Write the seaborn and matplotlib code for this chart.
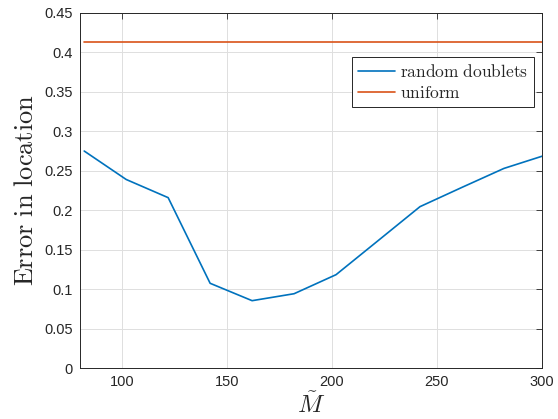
import numpy as np
import pandas as pd
import matplotlib
matplotlib.use("Agg")
import matplotlib.pyplot as plt
import seaborn as sns

# values
m_tilde = [82, 102, 122, 142, 162, 182, 202, 222, 242, 262, 282, 302]
random_doublets = [0.275, 0.239, 0.216, 0.1076, 0.0856, 0.0944, 0.1185, 0.1615, 0.2046, 0.229, 0.253, 0.270]
uniform = [0.4134] * len(m_tilde)

df = pd.DataFrame({
    "M": m_tilde * 2,
    "err": random_doublets + uniform,
    "method": ["random doublets"] * len(m_tilde) + ["uniform"] * len(m_tilde),
})

sns.set_style("white")
plt.rcParams["font.family"] = ["Liberation Sans", "DejaVu Sans"]
plt.rcParams["mathtext.fontset"] = "cm"
plt.rcParams["xtick.direction"] = "in"
plt.rcParams["ytick.direction"] = "in"

fig = plt.figure(figsize=(5.58, 4.19), dpi=100)
ax = fig.add_axes([0.1434, 0.121, 0.8274, 0.8485])

sns.lineplot(data=df, x="M", y="err", hue="method",
             palette=["#0072BD", "#D95319"], linewidth=1.2, ax=ax)

ax.set_xlim(80, 300)
ax.set_ylim(0, 0.45)
ax.set_xticks([100, 150, 200, 250, 300])
ax.set_yticks(np.arange(0, 0.451, 0.05))
ax.set_yticklabels(["0", "0.05", "0.1", "0.15", "0.2", "0.25", "0.3", "0.35", "0.4", "0.45"])
ax.tick_params(labelsize=10.5, colors="#262626", length=4, width=0.6,
               top=True, right=True, pad=5)
ax.grid(True, color="#dfdfdf", linewidth=0.7)
for s in ax.spines.values():
    s.set_color("#262626")
    s.set_linewidth(0.7)

ax.set_xlabel(r"$\tilde{M}$", fontsize=18, labelpad=2)
ax.set_ylabel(r"$\mathrm{Error\ in\ location}$", fontsize=19, labelpad=5)

leg = ax.legend(title=None, loc="upper right", bbox_to_anchor=(0.983, 0.876),
                borderaxespad=0, prop={"size": 12.5}, handlelength=2.1,
                handletextpad=0.3, borderpad=0.35, labelspacing=0.3,
                fancybox=False, framealpha=1)
leg.get_frame().set_edgecolor("#262626")
leg.get_frame().set_linewidth(0.7)
for t in leg.get_texts():
    t.set_text(r"$\mathrm{" + t.get_text().replace(" ", r"\ ") + "}$")

fig.savefig("out.png", dpi=100)
